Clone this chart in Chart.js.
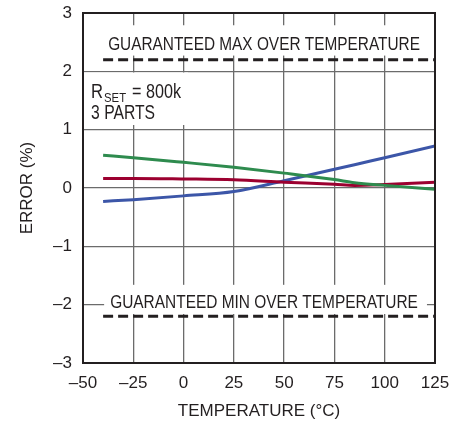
<!DOCTYPE html>
<html lang="en">
<head>
<meta charset="UTF-8">
<title>Error vs Temperature</title>
<style>
  html, body { margin: 0; padding: 0; background: #fff; }
</style>
</head>
<body>
<canvas id="Chart" width="463" height="425"></canvas>
<script src="https://cdn.jsdelivr.net/npm/chart.js"></script>
<script>
// temperature (°C) at which each part was read
const temps = [-40, -25, 0, 25, 50, 75, 85, 100, 125];
// error (%) of the three parts
const partGreen = [0.56, 0.52, 0.44, 0.355, 0.255, 0.145, 0.09, 0.045, -0.02];
const partRed = [0.165, 0.165, 0.155, 0.14, 0.10, 0.065, 0.045, 0.06, 0.10];
const partBlue = [-0.23, -0.20, -0.135, -0.06, 0.125, 0.32, 0.40, 0.52, 0.72];
// guaranteed limits
const limitTemps = [-40, 125];
const limitMax = [2.2, 2.2];
const limitMin = [-2.2, -2.2];

const xTicks = [-50, -25, 0, 25, 50, 75, 100, 125];
const yTicks = [-3, -2, -1, 0, 1, 2, 3];

const FONT = '"Liberation Sans Narrow", "Liberation Sans", Arial, sans-serif';

function pts(xs, ys) {
    return xs.map((x, i) => ({ x: x, y: ys[i] }));
}

function dash(s) {
    return String(s).replace('-', '\u2013');
}

// write text squeezed/stretched to a given width
function fitText(ctx, text, x, y, width, size) {
    ctx.font = size + 'px ' + FONT;
    const w = ctx.measureText(text).width;
    ctx.save();
    ctx.translate(x, y);
    ctx.scale(width / w, 1);
    ctx.fillText(text, 0, 0);
    ctx.restore();
}

const notes = {
    id: 'notes',
    beforeDatasetsDraw(chart) {
        const ctx = chart.ctx;
        const x = chart.scales.x, y = chart.scales.y;
        const box = (x0, x1, y0, y1) => {
            const l = x.getPixelForValue(x0), r = x.getPixelForValue(x1);
            const t = y.getPixelForValue(y0), b = y.getPixelForValue(y1);
            ctx.fillRect(l, t, r - l, b - t);
        };
        ctx.save();
        ctx.fillStyle = '#fff';
        box(-41.5, 121.5, 2.79, 2.27);
        box(-39.5, 121, -1.66, -2.16);
        box(-49.5, 2.2, 1.98, 1.08);
        ctx.restore();
    },
    afterDatasetsDraw(chart) {
        const ctx = chart.ctx;
        const x = chart.scales.x, y = chart.scales.y;
        const a = chart.chartArea;
        ctx.save();
        ctx.fillStyle = '#231f20';
        ctx.textAlign = 'left';
        ctx.textBaseline = 'alphabetic';
        const l1 = x.getPixelForValue(-37.5), r1 = x.getPixelForValue(117.5);
        fitText(ctx, 'GUARANTEED MAX OVER TEMPERATURE', l1, y.getPixelForValue(2.365), r1 - l1, 18.5);
        const l2 = x.getPixelForValue(-36.5), r2 = x.getPixelForValue(116.5);
        fitText(ctx, 'GUARANTEED MIN OVER TEMPERATURE', l2, y.getPixelForValue(-2.05), r2 - l2, 18.5);

        const px = x.getPixelForValue(-46);
        fitText(ctx, 'R', px, y.getPixelForValue(1.54), 12, 19.5);
        fitText(ctx, 'SET', px + 13, y.getPixelForValue(1.48), 22, 13.5);
        fitText(ctx, '= 800k', px + 41, y.getPixelForValue(1.54), 49, 19.5);
        fitText(ctx, '3 PARTS', px, y.getPixelForValue(1.18), 64, 19.5);

        // frame round the plot
        ctx.strokeStyle = '#231f20';
        ctx.lineWidth = 2;
        ctx.strokeRect(a.left, a.top, a.right - a.left, a.bottom - a.top);
        ctx.restore();
    }
};

const ctx = document.getElementById('Chart').getContext('2d');
const chart = new Chart(ctx, {
    type: 'line',
    data: {
        datasets: [
            {
                label: 'max',
                data: pts(limitTemps, limitMax),
                borderColor: '#231f20',
                borderWidth: 3,
                borderDash: [10, 5],
                pointRadius: 0
            },
            {
                label: 'min',
                data: pts(limitTemps, limitMin),
                borderColor: '#231f20',
                borderWidth: 3,
                borderDash: [10, 5],
                pointRadius: 0
            },
            {
                label: 'part 1',
                data: pts(temps, partGreen),
                borderColor: '#2e8b4e',
                borderWidth: 3,
                pointRadius: 0,
                cubicInterpolationMode: 'monotone'
            },
            {
                label: 'part 2',
                data: pts(temps, partRed),
                borderColor: '#9c0030',
                borderWidth: 3,
                pointRadius: 0,
                cubicInterpolationMode: 'monotone'
            },
            {
                label: 'part 3',
                data: pts(temps, partBlue),
                borderColor: '#3c56a8',
                borderWidth: 3,
                pointRadius: 0,
                cubicInterpolationMode: 'monotone'
            }
        ]
    },
    options: {
        responsive: false,
        animation: false,
        layout: { padding: { left: 0, right: 28, top: 0, bottom: 0 } },
        plugins: {
            legend: { display: false },
            tooltip: { enabled: false }
        },
        scales: {
            x: {
                type: 'linear',
                min: xTicks[0],
                max: xTicks[xTicks.length - 1],
                afterBuildTicks: s => { s.ticks = xTicks.map(v => ({ value: v })); },
                afterFit: s => { s.height = 62; },
                grid: { color: '#6b6b6b', lineWidth: 1.3, drawTicks: false },
                border: { color: '#231f20', width: 2 },
                ticks: {
                    padding: 10,
                    color: '#231f20',
                    font: { family: FONT, size: 17 },
                    maxRotation: 0,
                    callback: v => dash(v)
                },
                title: {
                    display: true,
                    text: 'TEMPERATURE (°C)',
                    color: '#231f20',
                    font: { family: FONT, size: 17 },
                    padding: { top: 0, bottom: 3 }
                }
            },
            y: {
                min: yTicks[0],
                max: yTicks[yTicks.length - 1],
                afterBuildTicks: s => { s.ticks = yTicks.map(v => ({ value: v })); },
                afterFit: s => { s.width = 83; s.paddingTop = 13; s.paddingBottom = 0; },
                grid: { color: '#6b6b6b', lineWidth: 1.3, drawTicks: false },
                border: { color: '#231f20', width: 2 },
                ticks: {
                    padding: 11,
                    color: '#231f20',
                    font: { family: FONT, size: 17 },
                    callback: v => dash(v)
                },
                title: {
                    display: true,
                    text: 'ERROR (%)',
                    color: '#231f20',
                    font: { family: FONT, size: 17 },
                    padding: { top: 17, bottom: 0 }
                }
            }
        }
    },
    plugins: [notes]
});
</script>
</body>
</html>
